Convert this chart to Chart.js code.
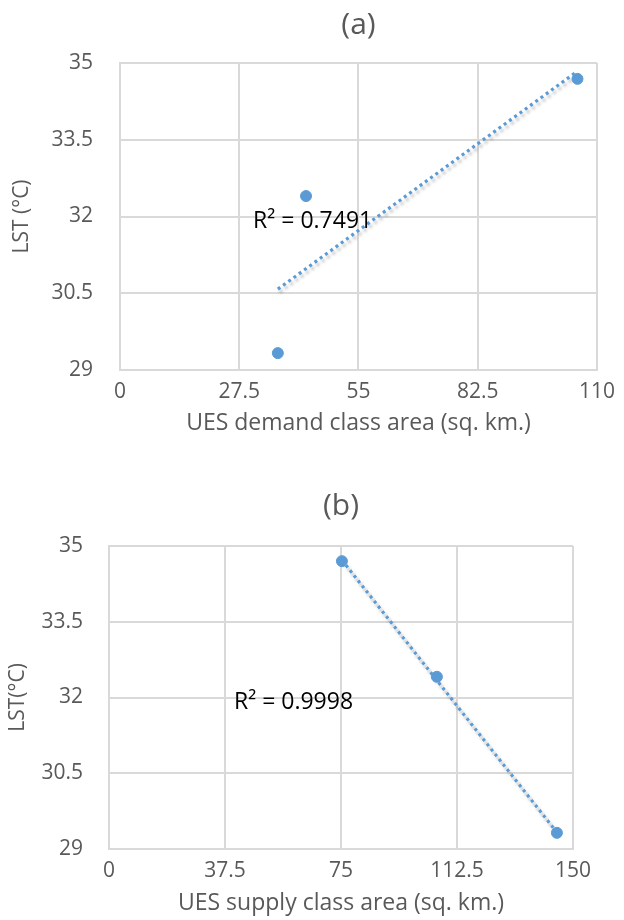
<!DOCTYPE html>
<html>
<head>
<meta charset="utf-8">
<script src="https://cdn.jsdelivr.net/npm/chart.js@4"></script>
<style>
  body { margin: 0; background: #fff; }
  .box { position: relative; width: 624px; height: 460px; }
</style>
</head>
<body>
<div class="box"><canvas id="chartA"></canvas></div>
<div class="box"><canvas id="chartB"></canvas></div>
<script>
// (a) demand class area vs LST
const demandArea = [36.4, 42.9, 105.5];
const demandLst = [29.33, 32.4, 34.69];
const demandTrendX = [36.4, 105.5];
const demandTrendY = [30.58, 34.84];

// (b) supply class area vs LST
const supplyArea = [75.3, 106.0, 144.8];
const supplyLst = [34.7, 32.41, 29.32];
const supplyTrendX = [75.3, 144.8];
const supplyTrendY = [34.72, 29.33];

const lstTicks = [29, 30.5, 32, 33.5, 35];
const demandTicks = [0, 27.5, 55, 82.5, 110];
const supplyTicks = [0, 37.5, 75, 112.5, 150];

const FONT = "'Open Sans', 'Noto Sans', sans-serif";
const BLUE = '#5B9BD5';
const GRID = '#D9D9D9';
const TEXT = '#595959';

function pts(xs, ys) {
    return xs.map((x, i) => ({ x: x, y: ys[i] }));
}

// draws the R² label at a data position
const r2Plugin = {
    id: 'r2label',
    afterDatasetsDraw(chart, args, opts) {
        const ctx = chart.ctx;
        const px = chart.scales.x.getPixelForValue(opts.x);
        const py = chart.scales.y.getPixelForValue(opts.y);
        ctx.save();
        ctx.font = '23px ' + FONT;
        ctx.fillStyle = '#000';
        ctx.textAlign = 'left';
        ctx.textBaseline = 'middle';
        ctx.fillText(opts.text, px, py);
        ctx.restore();
    }
};

// soft shadow under the trendline, like Excel
const shadowPlugin = {
    id: 'trendShadow',
    beforeDatasetDraw(chart, args) {
        if (args.index !== 1) return;
        const ctx = chart.ctx;
        ctx.save();
        ctx.shadowColor = 'rgba(0,0,0,0.25)';
        ctx.shadowBlur = 3;
        ctx.shadowOffsetX = 2;
        ctx.shadowOffsetY = 3;
    },
    afterDatasetDraw(chart, args) {
        if (args.index !== 1) return;
        chart.ctx.restore();
    }
};

function makeChart(id, cfg) {
    return new Chart(document.getElementById(id), {
        type: 'scatter',
        data: {
            datasets: [
                {
                    data: pts(cfg.xs, cfg.ys),
                    backgroundColor: BLUE,
                    borderColor: BLUE,
                    pointRadius: 5.5,
                    pointHoverRadius: 5.5
                },
                {
                    type: 'line',
                    data: pts(cfg.tx, cfg.ty),
                    borderColor: BLUE,
                    borderWidth: 3.2,
                    borderDash: [3, 3.5],
                    pointRadius: 0,
                    fill: false
                }
            ]
        },
        options: {
            responsive: true,
            maintainAspectRatio: false,
            animation: false,
            layout: { padding: { left: 0, right: cfg.right, top: 0, bottom: 0 } },
            plugins: {
                legend: { display: false },
                tooltip: { enabled: false },
                title: {
                    display: true,
                    text: cfg.title,
                    fullSize: false,
                    color: TEXT,
                    font: { family: FONT, size: 30, weight: 'normal' },
                    padding: cfg.titlePad
                },
                r2label: cfg.r2
            },
            scales: {
                x: {
                    type: 'linear',
                    min: cfg.xTicks[0],
                    max: cfg.xTicks[cfg.xTicks.length - 1],
                    afterBuildTicks: s => { s.ticks = cfg.xTicks.map(v => ({ value: v })); },
                    afterFit: s => { s.height = cfg.xHeight; },
                    grid: { color: GRID, lineWidth: 2, drawTicks: false },
                    border: { color: GRID, width: 2 },
                    ticks: { color: TEXT, padding: 9, font: { family: FONT, size: 21 }, maxRotation: 0 },
                    title: {
                        display: true,
                        text: cfg.xTitle,
                        color: TEXT,
                        font: { family: FONT, size: 23 },
                        padding: { top: 0, bottom: cfg.xTitlePad }
                    }
                },
                y: {
                    min: 29,
                    max: 35,
                    afterBuildTicks: s => { s.ticks = lstTicks.map(v => ({ value: v })); },
                    afterFit: s => { s.width = cfg.yWidth; },
                    grid: { color: GRID, lineWidth: 2, drawTicks: false },
                    border: { color: GRID, width: 2 },
                    ticks: { color: TEXT, padding: cfg.yTickPad, font: { family: FONT, size: 21 } },
                    title: {
                        display: true,
                        text: cfg.yTitle,
                        color: TEXT,
                        font: { family: FONT, size: 21 },
                        padding: { top: cfg.yTitlePad, bottom: 0 }
                    }
                }
            }
        },
        plugins: [shadowPlugin, r2Plugin]
    });
}

makeChart('chartA', {
    title: '(a)',
    xs: demandArea, ys: demandLst,
    tx: demandTrendX, ty: demandTrendY,
    xTicks: demandTicks,
    xTitle: 'UES demand class area (sq. km.)',
    yTitle: 'LST (°C)',
    right: 13,
    titlePad: { top: 7, bottom: 20 },
    xHeight: 90, xTitlePad: 23,
    yWidth: 120, yTickPad: 27, yTitlePad: 9,
    r2: { text: 'R² = 0.7491', x: 30.7, y: 31.91 }
});

makeChart('chartB', {
    title: '(b)',
    xs: supplyArea, ys: supplyLst,
    tx: supplyTrendX, ty: supplyTrendY,
    xTicks: supplyTicks,
    xTitle: 'UES supply class area (sq. km.)',
    yTitle: 'LST(°C)',
    right: 51,
    titlePad: { top: 28, bottom: 22 },
    xHeight: 71, xTitlePad: 3,
    yWidth: 109, yTickPad: 26, yTitlePad: 5,
    r2: { text: 'R² = 0.9998', x: 40.4, y: 31.91 }
});
</script>
</body>
</html>
